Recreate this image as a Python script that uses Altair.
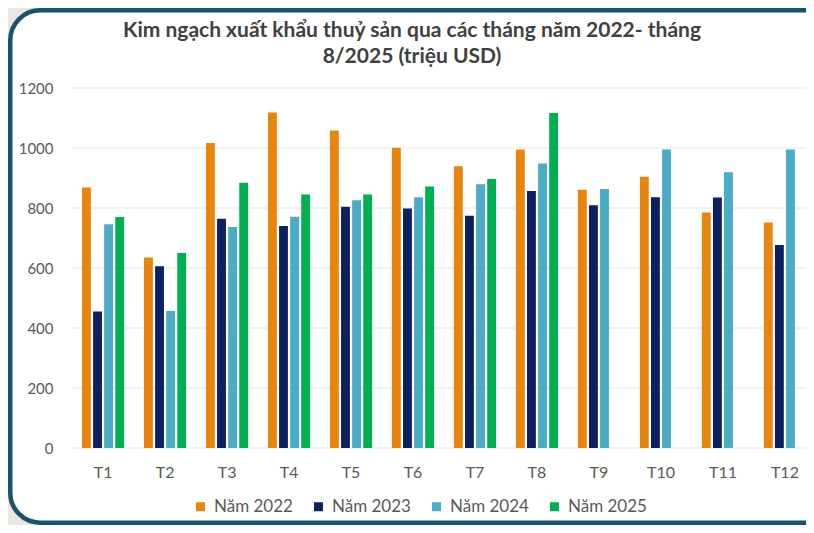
import altair as alt
import pandas as pd

FONT = "Lato, sans-serif"

months = ["T1", "T2", "T3", "T4", "T5", "T6", "T7", "T8", "T9", "T10", "T11", "T12"]
years = ["Năm 2022", "Năm 2023", "Năm 2024", "Năm 2025"]
v2022 = [868, 635, 1017, 1118, 1058, 1001, 939, 995, 861, 904, 785, 752]
v2023 = [455, 606, 764, 740, 804, 798, 774, 857, 809, 836, 835, 677]
v2024 = [746, 457, 737, 771, 826, 836, 879, 948, 863, 995, 919, 995]
v2025 = [770, 650, 884, 845, 845, 872, 897, 1117]
grid_values = [0, 200, 400, 600, 800, 1000, 1200]
colors = ["#E8850C", "#0B2160", "#4BACC6", "#00B050"]

title_lines = ["Kim ngạch xuất khẩu thuỷ sản qua các tháng năm 2022- tháng",
               "8/2025 (triệu USD)"]

rows = []
for yr, vals in zip(years, [v2022, v2023, v2024, v2025]):
    for m, v in zip(months, vals):
        rows.append({"month": m, "year": yr, "value": v})
df = pd.DataFrame(rows)

W, H = 724, 360

y_axis = alt.Axis(values=grid_values, format="d", grid=False, domain=False, ticks=False,
                  title=None, labelPadding=29, labelFontSize=15,
                  labelColor="#595959", labelFont=FONT, zindex=1)
y_scale = alt.Scale(domain=[0, 1200])

# decorative rounded frame (white card with teal border)
frame = alt.Chart(pd.DataFrame({"a": [0]})).mark_rect(
    fill="white", stroke="#17536F", strokeWidth=4.5, cornerRadius=30
).encode(
    x=alt.value(-71.75), x2=alt.value(W + 30),
    y=alt.value(-77.75), y2=alt.value(434.75)
)

grid = alt.Chart(pd.DataFrame({"v": grid_values})).mark_rule(
    color="#e6e6e6", strokeWidth=1
).encode(
    y=alt.Y("v:Q", scale=y_scale, axis=y_axis),
    x=alt.value(-10), x2=alt.value(W + 20)
)

bars = alt.Chart(df).mark_bar().encode(
    x=alt.X("month:N", sort=months,
            scale=alt.Scale(paddingInner=0.32, paddingOuter=0),
            axis=alt.Axis(title=None, labelAngle=0, domain=False, ticks=False,
                          labelPadding=16, labelFontSize=16, labelColor="#595959",
                          labelFont=FONT, zindex=1)),
    xOffset=alt.XOffset("year:N", sort=years, scale=alt.Scale(paddingInner=0.2)),
    y=alt.Y("value:Q", scale=y_scale, axis=y_axis),
    color=alt.Color("year:N", sort=years,
                    scale=alt.Scale(domain=years, range=colors),
                    legend=alt.Legend(orient="none", legendX=110, legendY=410,
                                      direction="horizontal", title=None,
                                      symbolType="square", symbolSize=81,
                                      symbolStrokeWidth=0, labelFontSize=17,
                                      labelColor="#595959", labelFont=FONT,
                                      columnPadding=17, labelOffset=5,
                                      padding=0, zindex=1))
)

chart = alt.layer(frame, grid, bars).properties(
    width=W, height=H,
    autosize=alt.AutoSizeParams(type="none"),
    padding={"left": 74, "top": 80, "right": 0, "bottom": 77},
    background="#ECE5E0",
    title=alt.Title(title_lines, fontSize=21, fontWeight="bold", color="#404040",
                    font=FONT, anchor="middle", frame="group", dx=-32,
                    offset=-59, lineHeight=26, zindex=1)
).configure_view(stroke=None)

chart.save("out.html", embed_options={"renderer": "svg", "actions": False})
